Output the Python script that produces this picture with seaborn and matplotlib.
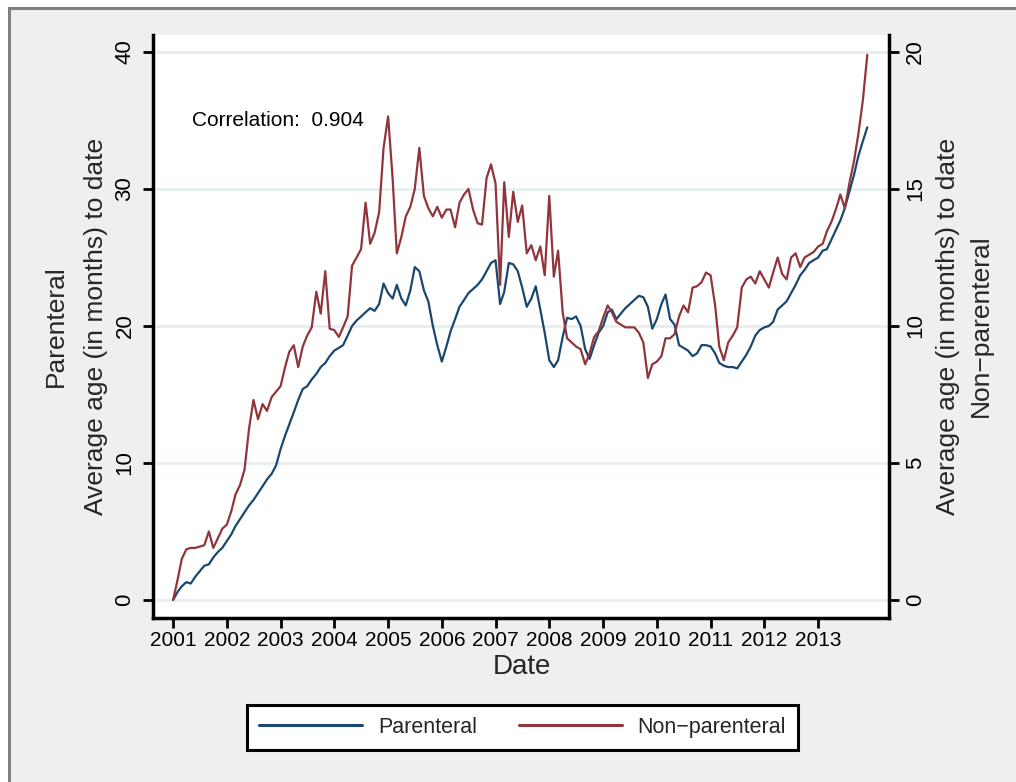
import pandas as pd
import matplotlib
matplotlib.use("Agg")
import matplotlib.pyplot as plt
from matplotlib.patches import Rectangle
from matplotlib.lines import Line2D
import seaborn as sns

# monthly averages, Jan 2001 - Dec 2013
start_month = "2001-01-01"

# left axis (0-40)
parenteral = [
    0.0, 0.6, 1.0, 1.3, 1.2, 1.7, 2.1, 2.5, 2.6, 3.1, 3.5, 3.8,
    4.3, 4.8, 5.4, 5.9, 6.4, 6.9, 7.3, 7.8, 8.3, 8.8, 9.2, 9.8,
    11.0, 12.0, 12.8, 13.7, 14.6, 15.4, 15.6, 16.1, 16.5, 17.0, 17.3, 17.8,
    18.2, 18.4, 18.6, 19.3, 20.0, 20.4, 20.7, 21.0, 21.3, 21.1, 21.6, 23.1,
    22.4, 22.0, 23.0, 22.0, 21.5, 22.6, 24.3, 24.0, 22.6, 21.8, 20.0, 18.6,
    17.4, 18.5, 19.6, 20.5, 21.4, 21.9, 22.4, 22.7, 23.0, 23.4, 24.0, 24.6,
    24.8, 21.6, 22.5, 24.6, 24.5, 24.0, 22.8, 21.4, 22.0, 22.9, 21.2, 19.5,
    17.5, 17.0, 17.5, 19.2, 20.6, 20.5, 20.7, 20.0, 18.3, 17.6, 18.6, 19.5,
    20.0, 21.0, 21.2, 20.5, 20.9, 21.3, 21.6, 21.9, 22.2, 22.1, 21.4, 19.8,
    20.5, 21.6, 22.3, 20.5, 20.1, 18.6, 18.4, 18.2, 17.8, 18.0, 18.6, 18.6,
    18.5, 18.0, 17.3, 17.1, 17.0, 17.0, 16.9, 17.4, 17.9, 18.5, 19.3, 19.7,
    19.9, 20.0, 20.3, 21.2, 21.5, 21.8, 22.4, 23.0, 23.7, 24.1, 24.6, 24.8,
    25.0, 25.5, 25.6, 26.3, 27.0, 27.7, 28.6, 29.8, 31.0, 32.4, 33.5, 34.5,
]

# right axis (0-20)
non_parenteral = [
    0.0, 0.75, 1.5, 1.85, 1.9, 1.9, 1.95, 2.0, 2.5, 1.9, 2.25, 2.6,
    2.75, 3.25, 3.85, 4.2, 4.75, 6.25, 7.3, 6.6, 7.15, 6.9, 7.4, 7.6,
    7.8, 8.5, 9.05, 9.3, 8.5, 9.25, 9.65, 9.95, 11.25, 10.45, 12.0, 9.9,
    9.85, 9.6, 9.95, 10.35, 12.2, 12.5, 12.8, 14.5, 13.0, 13.4, 14.15, 16.5,
    17.65, 15.35, 12.65, 13.25, 14.0, 14.35, 15.0, 16.5, 14.75, 14.3, 14.0, 14.35,
    13.95, 14.25, 14.25, 13.6, 14.5, 14.8, 15.0, 14.25, 13.75, 13.7, 15.4, 15.9,
    15.2, 11.5, 15.25, 13.25, 14.9, 13.8, 14.4, 12.65, 12.95, 12.4, 12.9, 11.85,
    14.75, 11.8, 12.75, 10.5, 9.55, 9.4, 9.25, 9.15, 8.6, 9.0, 9.6, 9.8,
    10.3, 10.75, 10.5, 10.15, 10.05, 9.95, 9.95, 9.95, 9.75, 9.4, 8.1, 8.6,
    8.7, 8.9, 9.55, 9.55, 9.7, 10.35, 10.75, 10.5, 11.4, 11.45, 11.6, 11.95,
    11.85, 10.75, 9.25, 8.75, 9.4, 9.65, 9.95, 11.4, 11.7, 11.8, 11.55, 12.0,
    11.7, 11.4, 11.95, 12.5, 11.9, 11.7, 12.5, 12.65, 12.15, 12.5, 12.6, 12.7,
    12.9, 13.0, 13.45, 13.8, 14.25, 14.8, 14.3, 15.2, 16.0, 17.0, 18.25, 19.9,
]

tick_years = [2001, 2002, 2003, 2004, 2005, 2006, 2007, 2008, 2009, 2010, 2011, 2012, 2013]
left_ticks = [0, 10, 20, 30, 40]
right_ticks = [0, 5, 10, 15, 20]
series_labels = ["Parenteral", "Non\u2212parenteral"]
correlation = 0.904

BLUE = "#1a476f"
RED = "#90353b"
GRID = "#e6eef0"

dates = pd.date_range(start_month, periods=len(parenteral), freq="MS")
df = pd.DataFrame({"Date": dates, "Parenteral": parenteral, "Nonparenteral": non_parenteral})

sns.set_style("white")
plt.rcParams['font.family'] = ['Liberation Sans', 'DejaVu Sans']

W, H = 1016, 782
fig = plt.figure(figsize=(W / 100, H / 100), dpi=100)
fig.patch.set_facecolor("white")
# stata-like outer graph region
fig.add_artist(Rectangle((9 / W, -0.05), 1.2, 1.05 - 8 / H, transform=fig.transFigure,
                         facecolor="#efefef", edgecolor="#7f7f7f", lw=2.2, zorder=-10))

ax = fig.add_axes([152.5 / W, 1 - 617.5 / H, 736 / W, 582.5 / H])
ax.set_facecolor("white")
ax2 = ax.twinx()

sns.lineplot(data=df, x="Date", y="Parenteral", ax=ax, color=BLUE, linewidth=1.6, legend=False)
sns.lineplot(data=df, x="Date", y="Nonparenteral", ax=ax2, color=RED, linewidth=1.6, legend=False)

ax.set_xlim(pd.Timestamp("2000-08-14"), pd.Timestamp("2014-04-24"))
ax.set_ylim(-1.28, 41.24)
ax2.set_ylim(-0.64, 20.62)

ax.set_xticks(pd.to_datetime([f"{y}-01-01" for y in tick_years]))
ax.set_xticklabels([str(y) for y in tick_years])
ax.set_yticks(left_ticks)
ax.set_yticklabels([str(t) for t in left_ticks])
ax2.set_yticks(right_ticks)
ax2.set_yticklabels([str(t) for t in right_ticks])

ax.set_xlabel("")
ax.set_ylabel("")
ax2.set_ylabel("")

ax.yaxis.grid(True, color=GRID, lw=2)
ax.xaxis.grid(False)
ax.set_axisbelow(True)

for a in (ax, ax2):
    for s in a.spines.values():
        s.set_visible(False)
ax.spines["left"].set_visible(True)
ax.spines["bottom"].set_visible(True)
ax2.spines["right"].set_visible(True)
for s in (ax.spines["left"], ax.spines["bottom"], ax2.spines["right"]):
    s.set_color("black")
    s.set_linewidth(2.5)

ax.tick_params(axis="x", bottom=True, direction="out", length=7.2, width=2,
               color="black", labelsize=15, pad=2.5, labelcolor="black")
ax.tick_params(axis="y", left=True, right=False, direction="out", length=7.2, width=2,
               color="black", labelsize=16, pad=5, labelrotation=90, labelcolor="black")
ax2.tick_params(axis="y", right=True, left=False, direction="out", length=7.2, width=2,
                color="black", labelsize=16, pad=4.5, labelrotation=90, labelcolor="black")
for lab in ax.get_yticklabels():
    lab.set_va("center")
for lab in ax2.get_yticklabels():
    lab.set_va("center")

ax.text(pd.Timestamp("2001-05-08"), 35.0, f"Correlation:  {correlation}", fontsize=15,
        ha="left", va="center", color="black")

# axis titles
fig.text(56 / W, 1 - 326 / H, "Parenteral", rotation=90, ha="center", va="center", fontsize=19)
fig.text(96 / W, 1 - 326 / H, "Average age (in months) to date", rotation=90,
         ha="center", va="center", fontsize=19)
fig.text(948 / W, 1 - 326 / H, "Average age (in months) to date", rotation=90,
         ha="center", va="center", fontsize=19)
fig.text(981 / W, 1 - 326 / H, series_labels[1], rotation=90, ha="center", va="center", fontsize=19)
fig.text(522 / W, 1 - 667 / H, "Date", ha="center", va="center", fontsize=20)

handles = [Line2D([], [], color=BLUE, lw=2.2), Line2D([], [], color=RED, lw=2.2)]
leg = fig.legend(handles, series_labels, loc="center", bbox_to_anchor=(522.5 / W, 1 - 727.5 / H),
                 ncol=2, frameon=True, fancybox=False, edgecolor="black", facecolor="white",
                 framealpha=1, handlelength=4.8, handletextpad=0.72, columnspacing=1.95,
                 borderpad=0.55, fontsize=15.5)
leg.get_frame().set_linewidth(2.2)

fig.savefig("out.png", dpi=100, facecolor=fig.get_facecolor())
